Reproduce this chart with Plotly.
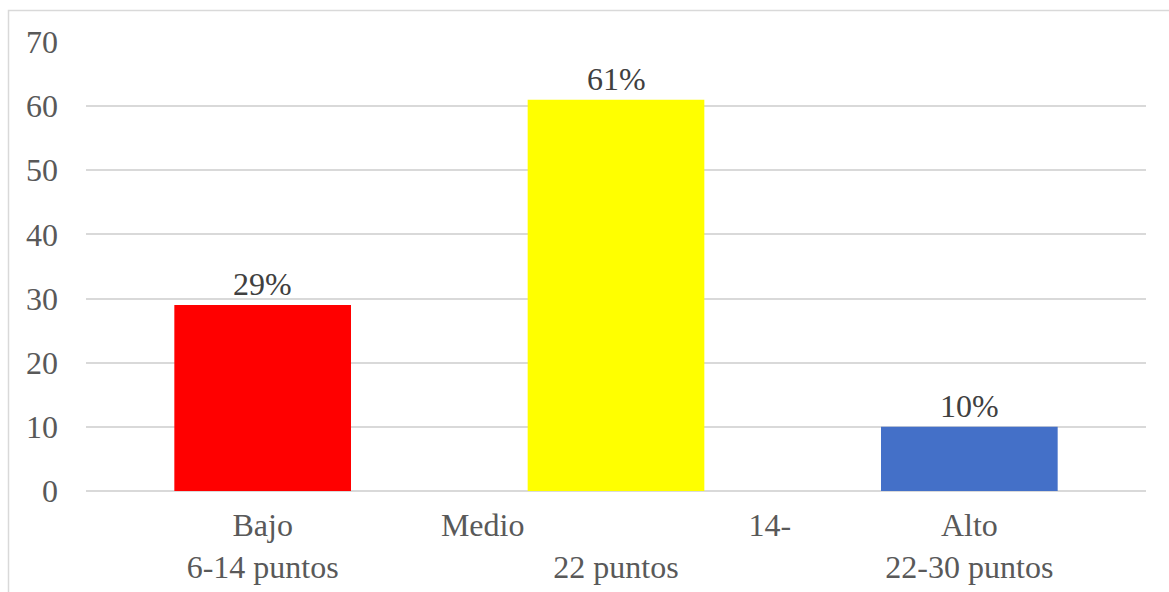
import plotly.graph_objects as go

categories = ["Bajo", "Medio", "Alto"]
tick_labels = [
    "Bajo<br>6-14 puntos",
    "Medio" + "\u00a0" * 28 + "14-<br>22 puntos",
    "Alto<br>22-30 puntos",
]
values = [29, 61, 10]
value_labels = ["29%", "61%", "10%"]
colors = ["#FF0000", "#FFFF00", "#4470C8"]

FONT = "Liberation Serif"
FS = 32
W, H = 1169, 592
L, R, T, B = 86, 23, 42, 101

fig = go.Figure()
fig.add_trace(go.Bar(
    x=categories,
    y=values,
    marker=dict(color=colors, line=dict(width=0)),
    width=0.5,
))

for c, v, t in zip(categories, values, value_labels):
    fig.add_annotation(
        x=c, y=v, text=t, showarrow=False, yanchor="middle", yshift=21,
        font=dict(family=FONT, size=FS, color="#404040"),
    )

pw = W - L - R
ph = H - T - B
fig.add_shape(
    type="rect", xref="paper", yref="paper",
    x0=(8.5 - L) / pw, x1=(W + 20 - L) / pw,
    y0=-(H + 20 - (T + ph)) / ph, y1=(T + ph - 10.5) / ph,
    line=dict(color="#D9D9D9", width=1.5), fillcolor="rgba(0,0,0,0)",
    layer="below",
)

fig.update_layout(
    width=W, height=H,
    margin=dict(l=L, r=R, t=T, b=B, autoexpand=False),
    paper_bgcolor="white", plot_bgcolor="white",
    showlegend=False,
    font=dict(family=FONT, size=FS, color="#595959"),
    xaxis=dict(
        tickmode="array", tickvals=categories, ticktext=tick_labels,
        showgrid=False, showline=False, zeroline=False, ticks="",
        ticklabelstandoff=12, automargin=False,
        tickfont=dict(family=FONT, size=FS, color="#595959"),
    ),
    yaxis=dict(
        range=[0, 70], dtick=10, tick0=0,
        showgrid=True, gridcolor="#D9D9D9", gridwidth=1.5,
        zeroline=True, zerolinecolor="#D9D9D9", zerolinewidth=1.5,
        showline=False, ticks="", ticklabelstandoff=27, automargin=False,
        tickfont=dict(family=FONT, size=FS, color="#595959"),
    ),
)

fig.write_html("out.html")
